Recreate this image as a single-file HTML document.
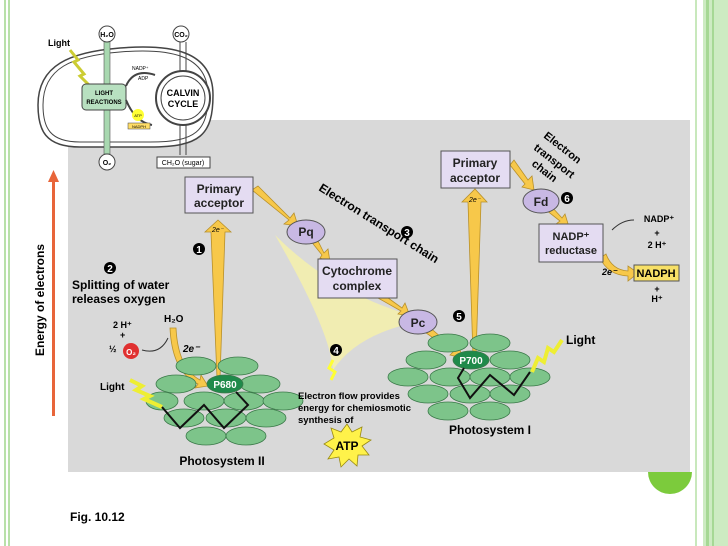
<!DOCTYPE html>
<html><head><meta charset="utf-8"><style>
body{margin:0;background:#fff}
svg{display:block;font-family:"Liberation Sans",sans-serif}
</style></head><body>
<svg width="728" height="546" viewBox="0 0 728 546" xmlns="http://www.w3.org/2000/svg">
<!-- borders -->
<rect x="4" y="0" width="2" height="546" fill="#b8e0a8"/>
<rect x="8" y="0" width="2" height="546" fill="#b8e0a8"/>
<rect x="695" y="0" width="2" height="546" fill="#c8e8bc"/>
<rect x="703" y="0" width="25" height="546" fill="#cdebc2"/>
<rect x="706" y="0" width="3" height="546" fill="#a6d894"/>
<rect x="712" y="0" width="2" height="546" fill="#a6d894"/>
<!-- gray panel -->
<rect x="68" y="120" width="622" height="352" fill="#d9d9d9"/>
<path d="M648 472 A22 22 0 0 0 692 472 Z" fill="#7ccb3c"/>
<!-- glow -->
<path d="M275 235 Q330 330 333 370 Q360 330 430 320 Q340 300 275 235Z" fill="#f6f1a8" opacity="0.8"/>
<!-- chloroplast -->
<path d="M38 105 C38 65 70 52 120 48 C170 44 213 50 213 95 C213 135 200 147 150 147 L80 147 C45 147 38 130 38 105Z" fill="#fff" stroke="#444" stroke-width="1.5"/>
<path d="M43 105 C43 68 72 56 120 52 C168 48 208 54 208 95 C208 131 196 142 150 142 L80 142 C50 142 43 128 43 105Z" fill="none" stroke="#444" stroke-width="1"/>
<rect x="104" y="40" width="6" height="114" fill="#a8d8b0" stroke="#555" stroke-width="0.6"/>
<circle cx="107" cy="34" r="8" fill="#fff" stroke="#444"/><text x="107" y="37" font-size="7" text-anchor="middle" font-weight="bold">H₂O</text>
<circle cx="107" cy="162" r="8" fill="#fff" stroke="#444"/><text x="107" y="165" font-size="7" text-anchor="middle" font-weight="bold">O₂</text>
<text x="48" y="46" font-size="9" font-weight="bold">Light</text>
<path d="M70 50 L78 60 L74 62 L84 74 L80 76 L90 86" stroke="#cc3" stroke-width="3" fill="none"/>
<rect x="82" y="84" width="44" height="26" rx="4" fill="#b8e0c0" stroke="#444"/>
<text x="104" y="95" font-size="6" text-anchor="middle" font-weight="bold">LIGHT</text>
<text x="104" y="104" font-size="6" text-anchor="middle" font-weight="bold">REACTIONS</text>
<path d="M180 42 L180 72 M186 42 L186 72" stroke="#444" fill="none"/>
<circle cx="183" cy="98" r="27" fill="#fff" stroke="#444" stroke-width="2"/>
<circle cx="183" cy="98" r="22" fill="#fff" stroke="#444" stroke-width="1"/>
<text x="183" y="96" font-size="9" text-anchor="middle" font-weight="bold">CALVIN</text>
<text x="183" y="107" font-size="9" text-anchor="middle" font-weight="bold">CYCLE</text>
<circle cx="181" cy="34" r="8" fill="#fff" stroke="#444"/><text x="181" y="37" font-size="7" text-anchor="middle" font-weight="bold">CO₂</text>
<path d="M180 125 L180 155 M186 125 L186 155" stroke="#444"/>
<rect x="157" y="157" width="53" height="11" fill="#fff" stroke="#444"/>
<text x="183" y="165" font-size="7" text-anchor="middle">CH₂O (sugar)</text>
<path d="M126 86 Q134 68 155 75 M126 100 Q135 122 152 125" stroke="#444" fill="none" stroke-width="2"/>
<text x="132" y="70" font-size="5">NADP⁺</text><text x="138" y="80" font-size="5">ADP</text>
<circle cx="138" cy="115" r="6" fill="#ff3"/><text x="138" y="117" font-size="4" text-anchor="middle">ATP</text>
<rect x="128" y="123" width="22" height="6" fill="#fd6" stroke="#444" stroke-width="0.5"/><text x="139" y="128" font-size="4" text-anchor="middle">NADPH</text>
<!-- energy arrow -->
<rect x="52" y="180" width="3" height="236" fill="#e8653a"/>
<path d="M48 182 L53.5 170 L59 182Z" fill="#e8653a"/>
<text transform="translate(44 300) rotate(-90)" font-size="12" font-weight="bold" text-anchor="middle">Energy of electrons</text>
<!-- PSII big arrow -->
<polygon points="217,378 220,378 225,232 231,232 218,220 205,232 211,232" fill="#f7c84a" stroke="#b8902a" stroke-width="0.8"/>
<text x="212" y="232" font-size="7" font-style="italic">2e⁻</text>
<!-- PSI big arrow -->
<polygon points="473,356 476,356 481,202 487,202 475,189 462,202 468,202" fill="#f7c84a" stroke="#b8902a" stroke-width="0.8"/>
<text x="469" y="202" font-size="7" font-style="italic">2e⁻</text>
<!-- small arrows -->
<g fill="#f7c84a" stroke="#b8902a" stroke-width="0.8">
<polygon points="252,190 258,186 290,218 294,213 298,226 284,224 289,220"/>
<polygon points="310,240 316,237 324,253 328,249 330,262 320,258 322,255"/>
<polygon points="378,298 384,295 402,308 405,303 410,316 398,314 401,311"/>
<polygon points="422,330 428,326 455,349 458,345 463,358 450,355 453,352"/>
<polygon points="510,165 514,160 528,180 532,176 534,190 522,187 525,184"/>
<polygon points="546,210 551,206 562,218 565,214 569,227 556,224 560,221"/>
<path d="M606 254 Q612 270 628 271 L628 266 L638 273 L628 281 L628 276 Q608 275 600 258Z"/>
<path d="M170 328 L176 328 Q178 368 200 380 L201 375 L208 386 L195 388 L198 384 Q172 372 170 328Z"/>
</g>
<!-- boxes -->
<g fill="#e4dcf2" stroke="#555" stroke-width="1">
<rect x="185" y="177" width="68" height="36"/>
<rect x="318" y="259" width="79" height="39"/>
<rect x="441" y="151" width="69" height="37"/>
<rect x="539" y="224" width="64" height="38"/>
<ellipse cx="306" cy="232" rx="19" ry="12" fill="#c8b8e4"/>
<ellipse cx="418" cy="322" rx="19" ry="12" fill="#c8b8e4"/>
<ellipse cx="541" cy="201" rx="18" ry="12" fill="#c8b8e4"/>
</g>
<g font-size="12" font-weight="bold" text-anchor="middle" fill="#222">
<text x="219" y="193">Primary</text><text x="219" y="207">acceptor</text>
<text x="357" y="275">Cytochrome</text><text x="357" y="290">complex</text>
<text x="475" y="167">Primary</text><text x="475" y="182">acceptor</text>
<text x="571" y="240" font-size="11">NADP⁺</text><text x="571" y="254" font-size="11">reductase</text>
<text x="306" y="236">Pq</text><text x="418" y="327">Pc</text><text x="541" y="206">Fd</text>
</g>
<rect x="634" y="265" width="45" height="16" fill="#f7e067" stroke="#555"/>
<text x="656" y="277" font-size="11" font-weight="bold" text-anchor="middle">NADPH</text>
<g font-size="9" font-weight="bold" text-anchor="middle">
<text x="659" y="222">NADP⁺</text><text x="657" y="236">+</text><text x="657" y="248">2 H⁺</text>
<text x="657" y="292">+</text><text x="657" y="302">H⁺</text>
</g>
<path d="M634 220 Q622 220 612 230" stroke="#333" fill="none"/>
<text x="602" y="275" font-size="9" font-weight="bold" font-style="italic">2e⁻</text>
<!-- ETC labels -->
<text transform="translate(318 190) rotate(32)" font-size="12" font-weight="bold">Electron transport chain</text>
<text transform="translate(543 137) rotate(38)" font-size="11" font-weight="bold">Electron</text>
<text transform="translate(533 149) rotate(38)" font-size="11" font-weight="bold">transport</text>
<text transform="translate(531 165) rotate(38)" font-size="11" font-weight="bold">chain</text>
<!-- numbered circles -->
<g font-size="10" font-weight="bold" text-anchor="middle">
<circle cx="199" cy="249" r="6"/><text x="199" y="253" fill="#fff">1</text>
<circle cx="110" cy="268" r="6"/><text x="110" y="272" fill="#fff">2</text>
<circle cx="407" cy="232" r="6"/><text x="407" y="236" fill="#fff">3</text>
<circle cx="336" cy="350" r="6"/><text x="336" y="354" fill="#fff">4</text>
<circle cx="459" cy="316" r="6"/><text x="459" y="320" fill="#fff">5</text>
<circle cx="567" cy="198" r="6"/><text x="567" y="202" fill="#fff">6</text>
</g>
<text x="72" y="289" font-size="12" font-weight="bold">Splitting of water</text>
<text x="72" y="303" font-size="12" font-weight="bold">releases oxygen</text>
<g font-size="9" font-weight="bold">
<text x="113" y="328">2 H⁺</text><text x="120" y="338">+</text><text x="109" y="352">½</text>
<text x="164" y="322" font-size="10">H₂O</text>
<text x="183" y="352" font-size="10" font-style="italic">2e⁻</text>
<text x="100" y="390" font-size="10">Light</text>
<text x="566" y="344" font-size="12">Light</text>
</g>
<circle cx="131" cy="351" r="8" fill="#e03030"/><text x="131" y="355" font-size="8" fill="#fff" text-anchor="middle" font-weight="bold">O₂</text>
<path d="M168 338 Q160 355 142 350" stroke="#333" fill="none"/>
<!-- PSII ellipses -->
<g fill="#7dc48a" stroke="#3c7a4a" stroke-width="0.8">
<ellipse cx="196" cy="366" rx="20" ry="9"/><ellipse cx="238" cy="366" rx="20" ry="9"/>
<ellipse cx="176" cy="384" rx="20" ry="9"/><ellipse cx="260" cy="384" rx="20" ry="9"/>
<ellipse cx="162" cy="401" rx="16" ry="9"/><ellipse cx="204" cy="401" rx="20" ry="9"/><ellipse cx="244" cy="401" rx="20" ry="9"/><ellipse cx="283" cy="401" rx="20" ry="9"/>
<ellipse cx="184" cy="418" rx="20" ry="9"/><ellipse cx="226" cy="418" rx="20" ry="9"/><ellipse cx="266" cy="418" rx="20" ry="9"/>
<ellipse cx="206" cy="436" rx="20" ry="9"/><ellipse cx="246" cy="436" rx="20" ry="9"/>
<ellipse cx="225" cy="384" rx="18" ry="9" fill="#1f8a4a"/>
</g>
<text x="225" y="388" font-size="10" font-weight="bold" fill="#fff" text-anchor="middle">P680</text>
<path d="M130 380 L142 386 L136 390 L150 396 L144 399 L162 407" stroke="#ee3" stroke-width="4" fill="none"/>
<path d="M162 407 L180 428 L204 405 L224 428 L248 405 L236 392" stroke="#111" stroke-width="2" fill="none"/>
<text x="222" y="465" font-size="12" font-weight="bold" text-anchor="middle">Photosystem II</text>
<!-- PSI ellipses -->
<g fill="#7dc48a" stroke="#3c7a4a" stroke-width="0.8">
<ellipse cx="448" cy="343" rx="20" ry="9"/><ellipse cx="490" cy="343" rx="20" ry="9"/>
<ellipse cx="426" cy="360" rx="20" ry="9"/><ellipse cx="510" cy="360" rx="20" ry="9"/>
<ellipse cx="408" cy="377" rx="20" ry="9"/><ellipse cx="450" cy="377" rx="20" ry="9"/><ellipse cx="490" cy="377" rx="20" ry="9"/><ellipse cx="530" cy="377" rx="20" ry="9"/>
<ellipse cx="428" cy="394" rx="20" ry="9"/><ellipse cx="470" cy="394" rx="20" ry="9"/><ellipse cx="510" cy="394" rx="20" ry="9"/>
<ellipse cx="448" cy="411" rx="20" ry="9"/><ellipse cx="490" cy="411" rx="20" ry="9"/>
<ellipse cx="471" cy="360" rx="18" ry="9" fill="#1f8a4a"/>
</g>
<text x="471" y="364" font-size="10" font-weight="bold" fill="#fff" text-anchor="middle">P700</text>
<path d="M562 340 L554 352 L548 348 L544 362 L538 358 L532 372" stroke="#ee3" stroke-width="4" fill="none"/>
<path d="M530 372 L514 395 L490 375 L470 398 L458 378 L464 368" stroke="#111" stroke-width="2" fill="none"/>
<text x="490" y="434" font-size="12" font-weight="bold" text-anchor="middle">Photosystem I</text>
<!-- ATP -->
<path d="M333 360 L329 368 L335 372 L331 380" stroke="#ff3" stroke-width="3" fill="none"/>
<text x="298" y="399" font-size="9.5" font-weight="bold">Electron flow provides</text>
<text x="298" y="411" font-size="9.5" font-weight="bold">energy for chemiosmotic</text>
<text x="298" y="423" font-size="9.5" font-weight="bold">synthesis of</text>
<polygon points="347,424 352,432 362,427 360,437 371,440 362,446 369,455 358,455 357,466 349,459 341,467 339,457 328,459 334,450 324,444 334,438 331,428 341,432" fill="#fff24a" stroke="#998a10" stroke-width="0.8"/>
<text x="347" y="450" font-size="12" font-weight="bold" text-anchor="middle">ATP</text>
<text x="70" y="521" font-size="12" font-weight="bold">Fig. 10.12</text>
</svg>
</body></html>
